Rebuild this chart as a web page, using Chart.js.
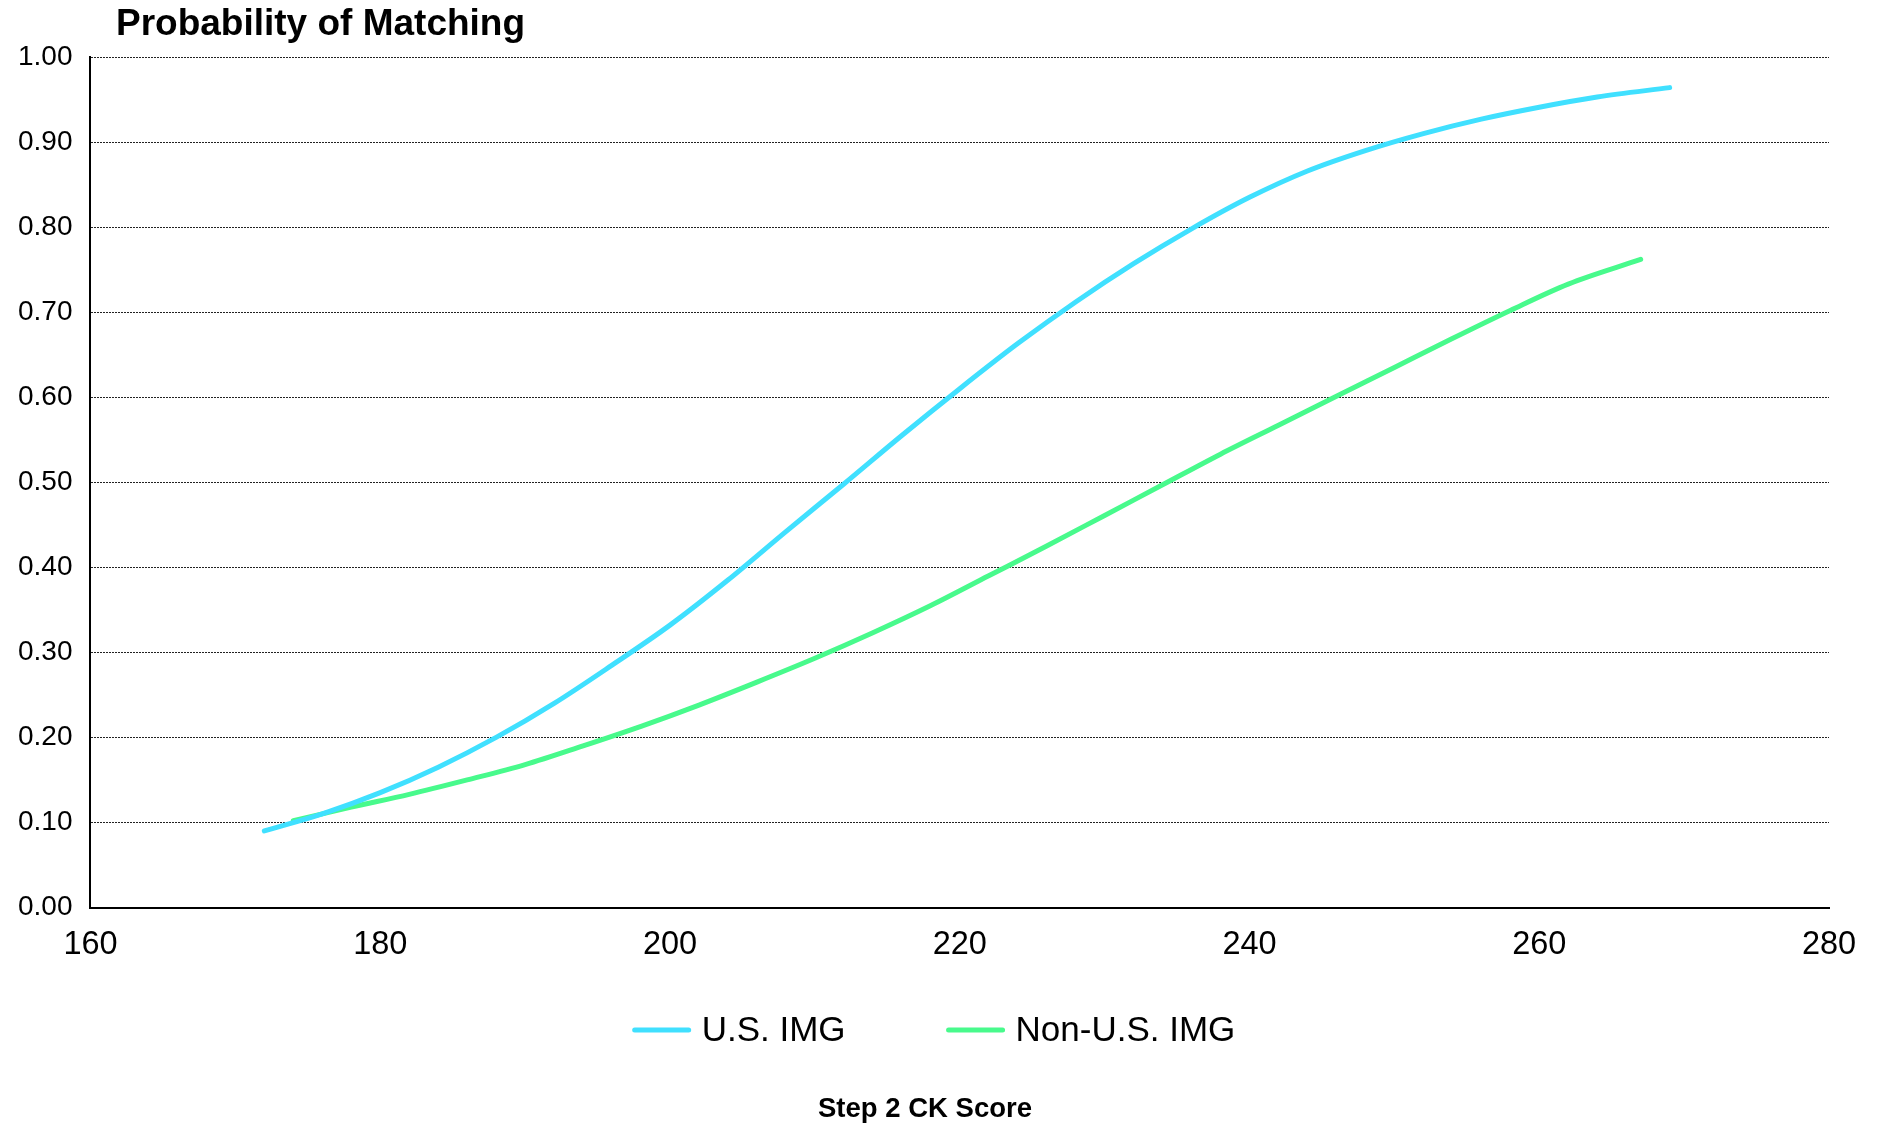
<!DOCTYPE html>
<html>
<head>
<meta charset="utf-8">
<script src="https://cdn.jsdelivr.net/npm/chart.js@4/dist/chart.umd.min.js"></script>
<style>
  html, body { margin: 0; padding: 0; background: #fff; }
  #wrap { width: 1879px; height: 1125px; position: relative; }
</style>
</head>
<body>
<div id="wrap"><canvas id="matchChart"></canvas></div>
<script>
// Probability of matching vs Step 2 CK score
const usScores =    [172, 176, 180, 184, 188, 192, 196, 200, 204, 208, 212, 216, 220, 224, 228, 232, 236, 240, 244, 248, 252, 256, 260, 264, 269];
const usProb =      [0.09, 0.11, 0.135, 0.165, 0.20, 0.24, 0.285, 0.332, 0.385, 0.442, 0.498, 0.555, 0.61, 0.663, 0.712, 0.757, 0.798, 0.835, 0.866, 0.89, 0.91, 0.927, 0.941, 0.953, 0.964];
const nonUsScores = [174, 178, 182, 186, 190, 194, 198, 202, 206, 210, 214, 218, 222, 226, 230, 234, 238, 242, 246, 250, 254, 258, 262, 267];
const nonUsProb =   [0.102, 0.118, 0.133, 0.15, 0.168, 0.19, 0.213, 0.238, 0.265, 0.293, 0.323, 0.355, 0.39, 0.425, 0.461, 0.497, 0.533, 0.567, 0.601, 0.635, 0.669, 0.702, 0.733, 0.762];
const seriesNames = ['U.S. IMG', 'Non-U.S. IMG'];
const seriesColors = ['#40E0FF', '#48FA8C'];
const xTicks = [160, 180, 200, 220, 240, 260, 280];

const FONT = '"Liberation Sans", Arial, sans-serif';
const toPoints = (xs, ys) => xs.map((x, i) => ({ x: x, y: ys[i] }));

// title at upper left, legend row and axis title under the axis, like the original
const extras = {
    id: 'extras',
    afterDraw(chart) {
        const ctx = chart.ctx;
        ctx.save();
        ctx.fillStyle = '#000';
        ctx.textBaseline = 'middle';
        ctx.font = 'bold 37px ' + FONT;
        ctx.fillText('Probability of Matching', 116, 25);

        // legend
        ctx.font = '35px ' + FONT;
        const lineLen = 58, gapText = 11, gapItem = 101, legendY = 1030;
        const items = chart.data.datasets.map(ds => ({ text: ds.label, color: ds.borderColor, w: ctx.measureText(ds.label).width }));
        let total = 0;
        items.forEach((it, i) => { total += lineLen + gapText + it.w + (i ? gapItem : 0); });
        let x = 934 - total / 2;
        items.forEach(it => {
            ctx.strokeStyle = it.color;
            ctx.lineWidth = 5;
            ctx.lineCap = 'round';
            ctx.beginPath();
            ctx.moveTo(x + 2, legendY);
            ctx.lineTo(x + lineLen - 2, legendY);
            ctx.stroke();
            ctx.fillText(it.text, x + lineLen + gapText, legendY + 1);
            x += lineLen + gapText + it.w + gapItem;
        });

        // x axis title
        ctx.font = 'bold 27.5px ' + FONT;
        ctx.textAlign = 'center';
        ctx.fillText('Step 2 CK Score', 925, 1109);
        ctx.restore();
    }
};

const ctx = document.getElementById('matchChart').getContext('2d');
new Chart(ctx, {
    type: 'line',
    data: {
        datasets: [
            {
                label: seriesNames[0],
                data: toPoints(usScores, usProb),
                borderColor: seriesColors[0],
                backgroundColor: seriesColors[0],
                borderWidth: 5,
                borderCapStyle: 'round',
                pointRadius: 0,
                cubicInterpolationMode: 'monotone'
            },
            {
                label: seriesNames[1],
                data: toPoints(nonUsScores, nonUsProb),
                borderColor: seriesColors[1],
                backgroundColor: seriesColors[1],
                borderWidth: 5,
                borderCapStyle: 'round',
                pointRadius: 0,
                cubicInterpolationMode: 'monotone'
            }
        ]
    },
    options: {
        responsive: true,
        maintainAspectRatio: false,
        animation: false,
        layout: { padding: { top: 57, left: 0, right: 50, bottom: 142.5 } },
        plugins: {
            legend: { display: false },
            tooltip: { enabled: false }
        },
        scales: {
            x: {
                type: 'linear',
                min: 160,
                max: 280,
                afterBuildTicks: axis => { axis.ticks = xTicks.map(v => ({ value: v })); },
                grid: { display: false, drawTicks: false },
                border: { display: true, color: '#000', width: 2 },
                ticks: {
                    color: '#000',
                    padding: 18,
                    font: { family: FONT, size: 32.5 }
                }
            },
            y: {
                min: 0,
                max: 1,
                grid: { color: '#222', lineWidth: 1, drawTicks: false },
                border: { display: true, color: '#000', width: 2, dash: [2, 1] },
                ticks: {
                    stepSize: 0.1,
                    color: '#000',
                    padding: 18,
                    font: { family: FONT, size: 28 },
                    callback: v => Number(v).toFixed(2)
                }
            }
        }
    },
    plugins: [extras]
});
</script>
</body>
</html>
